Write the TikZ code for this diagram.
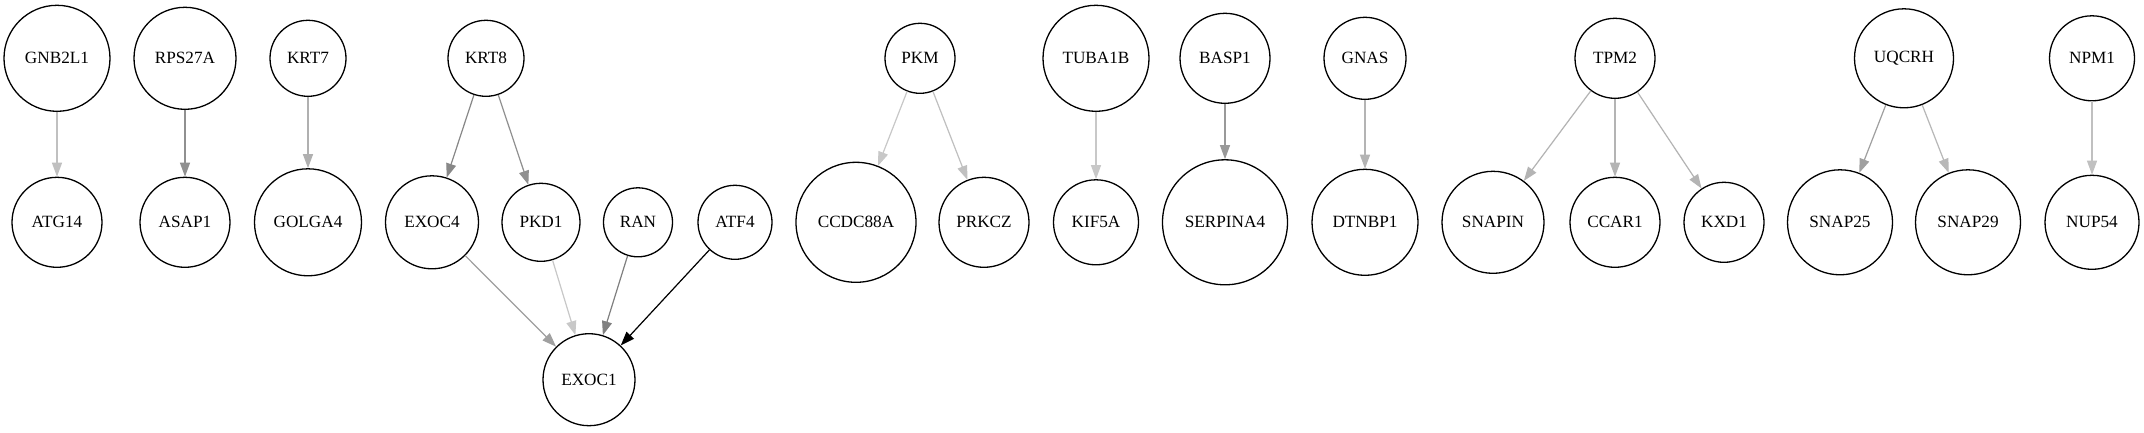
\documentclass[tikz,border=0pt]{standalone}
\usepackage{fontspec}
\setmainfont{Liberation Serif}
\usetikzlibrary{arrows.meta}
\tikzset{
  gn/.style={circle, draw=black, line width=1.3pt, inner sep=0pt, font=\fontsize{17.2}{20}\selectfont},
  ed/.style={line width=1.2pt, -{Triangle[length=14pt,width=10pt]}},
}
\newcommand{\gnode}[4]{\node[gn, minimum size=#4pt] (#1) at (#2,#3) {#1};}
\begin{document}
\begin{tikzpicture}[x=1pt,y=-1pt]
\useasboundingbox[fill=white] (0,0) rectangle (2144,432);
% top row
\gnode{GNB2L1}{57}{58.3}{106}
\gnode{RPS27A}{185}{58.3}{102}
\gnode{KRT7}{308}{58.3}{76}
\gnode{KRT8}{486}{58.3}{76}
\gnode{PKM}{920}{58.3}{70}
\gnode{TUBA1B}{1096}{58.3}{106}
\gnode{BASP1}{1225}{58.3}{90}
\gnode{GNAS}{1365}{58.3}{82}
\gnode{TPM2}{1615}{58.3}{80}
\gnode{UQCRH}{1904}{58.3}{99}
\gnode{NPM1}{2092}{58.3}{85}
% bottom row
\gnode{ATG14}{57}{222.3}{90}
\gnode{ASAP1}{185}{222.3}{90}
\gnode{GOLGA4}{308}{222.3}{107}
\gnode{EXOC4}{432}{222.3}{93}
\gnode{PKD1}{541}{222.3}{78}
\gnode{RAN}{638}{222.3}{69}
\gnode{ATF4}{735}{222.3}{74}
\gnode{CCDC88A}{856}{222.3}{120}
\gnode{PRKCZ}{984}{222.3}{90}
\gnode{KIF5A}{1096}{222.3}{85}
\gnode{SERPINA4}{1225}{222.3}{125}
\gnode{DTNBP1}{1365}{222.3}{106}
\gnode{SNAPIN}{1493}{222.3}{102}
\gnode{CCAR1}{1615}{222.3}{90}
\gnode{KXD1}{1724}{222.3}{80}
\gnode{SNAP25}{1840}{222.3}{105}
\gnode{SNAP29}{1968}{222.3}{105}
\gnode{NUP54}{2092}{222.3}{94}
% third row
\gnode{EXOC1}{589}{379.7}{92}
% edges
\draw[ed, draw={rgb,255:red,192;green,192;blue,192}, fill={rgb,255:red,192;green,192;blue,192}] (GNB2L1) -- (ATG14);
\draw[ed, draw={rgb,255:red,144;green,144;blue,144}, fill={rgb,255:red,144;green,144;blue,144}] (RPS27A) -- (ASAP1);
\draw[ed, draw={rgb,255:red,176;green,176;blue,176}, fill={rgb,255:red,176;green,176;blue,176}] (KRT7) -- (GOLGA4);
\draw[ed, draw={rgb,255:red,136;green,136;blue,136}, fill={rgb,255:red,136;green,136;blue,136}] (KRT8) -- (EXOC4);
\draw[ed, draw={rgb,255:red,144;green,144;blue,144}, fill={rgb,255:red,144;green,144;blue,144}] (KRT8) -- (PKD1);
\draw[ed, draw={rgb,255:red,160;green,160;blue,160}, fill={rgb,255:red,160;green,160;blue,160}] (EXOC4) -- (EXOC1);
\draw[ed, draw={rgb,255:red,200;green,200;blue,200}, fill={rgb,255:red,200;green,200;blue,200}] (PKD1) -- (EXOC1);
\draw[ed, draw={rgb,255:red,128;green,128;blue,128}, fill={rgb,255:red,128;green,128;blue,128}] (RAN) -- (EXOC1);
\draw[ed, draw=black, fill=black] (ATF4) -- (EXOC1);
\draw[ed, draw={rgb,255:red,200;green,200;blue,200}, fill={rgb,255:red,200;green,200;blue,200}] (PKM) -- (CCDC88A);
\draw[ed, draw={rgb,255:red,192;green,192;blue,192}, fill={rgb,255:red,192;green,192;blue,192}] (PKM) -- (PRKCZ);
\draw[ed, draw={rgb,255:red,200;green,200;blue,200}, fill={rgb,255:red,200;green,200;blue,200}] (TUBA1B) -- (KIF5A);
\draw[ed, draw={rgb,255:red,153;green,153;blue,153}, fill={rgb,255:red,153;green,153;blue,153}] (BASP1) -- (SERPINA4);
\draw[ed, draw={rgb,255:red,180;green,180;blue,180}, fill={rgb,255:red,180;green,180;blue,180}] (GNAS) -- (DTNBP1);
\draw[ed, draw={rgb,255:red,180;green,180;blue,180}, fill={rgb,255:red,180;green,180;blue,180}] (TPM2) -- (SNAPIN);
\draw[ed, draw={rgb,255:red,180;green,180;blue,180}, fill={rgb,255:red,180;green,180;blue,180}] (TPM2) -- (CCAR1);
\draw[ed, draw={rgb,255:red,180;green,180;blue,180}, fill={rgb,255:red,180;green,180;blue,180}] (TPM2) -- (KXD1);
\draw[ed, draw={rgb,255:red,160;green,160;blue,160}, fill={rgb,255:red,160;green,160;blue,160}] (UQCRH) -- (SNAP25);
\draw[ed, draw={rgb,255:red,184;green,184;blue,184}, fill={rgb,255:red,184;green,184;blue,184}] (UQCRH) -- (SNAP29);
\draw[ed, draw={rgb,255:red,192;green,192;blue,192}, fill={rgb,255:red,192;green,192;blue,192}] (NPM1) -- (NUP54);
\end{tikzpicture}
\end{document}
